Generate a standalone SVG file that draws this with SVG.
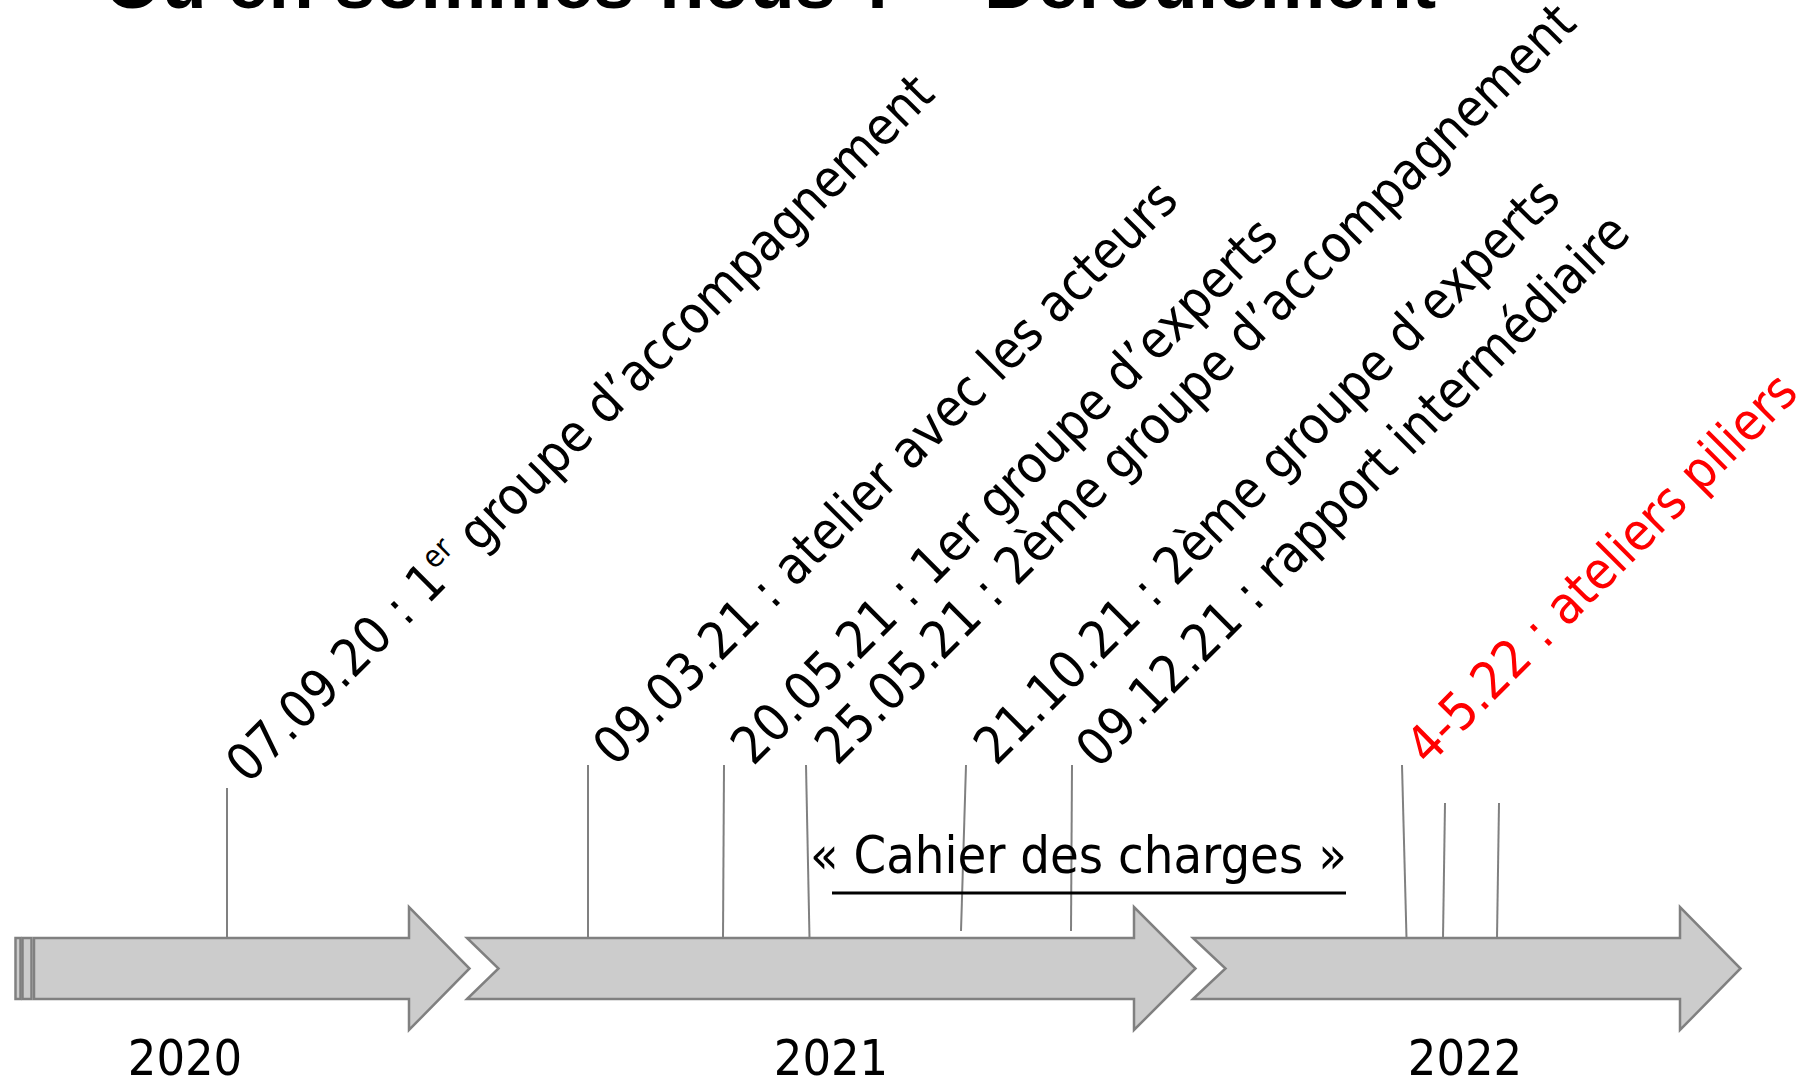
<svg xmlns="http://www.w3.org/2000/svg" width="1818" height="1084" viewBox="0 0 1818 1084">
  <style>
    .title { font-family: "Liberation Sans", Arial, sans-serif; font-weight: bold; font-size: 74px; fill: #000; }
    .lbl { font-family: "DejaVu Sans Condensed", "DejaVu Sans", sans-serif; font-stretch: condensed; font-size: 52px; fill: #000; }
    .red { fill: #ff0000; }
    .year { font-family: "DejaVu Sans Condensed", "DejaVu Sans", sans-serif; font-stretch: condensed; font-size: 50px; fill: #000; text-anchor: middle; }
    .arrow { fill: #cccccc; stroke: #808080; stroke-width: 2.5; stroke-linejoin: miter; }
    .tick { stroke: #808080; stroke-width: 2; fill: none; }
  </style>
  <rect width="1818" height="1084" fill="#ffffff"/>

  <!-- heading, mostly above the top edge -->
  <text class="title" x="104" y="8">Où en sommes-nous ? – Déroulement</text>

  <!-- timeline arrows -->
  <g id="arrow-2020">
    <rect class="arrow" x="15.5" y="938" width="5" height="61"/>
    <rect class="arrow" x="22.5" y="938" width="9" height="61"/>
    <path class="arrow" d="M34,938 L409,938 L409,907 L469.5,968.5 L409,1030 L409,999 L34,999 Z"/>
  </g>
  <g id="arrow-2021">
    <path class="arrow" d="M467,938 L1134,938 L1134,907 L1195.5,968.5 L1134,1030 L1134,999 L467,999 L498.5,968.5 Z"/>
  </g>
  <g id="arrow-2022">
    <path class="arrow" d="M1193,938 L1680,938 L1680,907 L1740.5,968.5 L1680,1030 L1680,999 L1193,999 L1225.5,968.5 Z"/>
  </g>

  <!-- event ticks -->
  <g id="connectors">
    <line class="tick" x1="227" y1="788" x2="227" y2="938"/>
    <line class="tick" x1="588" y1="765" x2="588" y2="938"/>
    <line class="tick" x1="724" y1="765" x2="723" y2="938"/>
    <line class="tick" x1="806" y1="765" x2="809.5" y2="938"/>
    <line class="tick" x1="966" y1="765" x2="961" y2="931"/>
    <line class="tick" x1="1072" y1="765" x2="1071" y2="931"/>
    <line class="tick" x1="1402" y1="765" x2="1406.5" y2="938"/>
    <line class="tick" x1="1445" y1="803" x2="1443" y2="938"/>
    <line class="tick" x1="1499" y1="803" x2="1497" y2="938"/>
  </g>

  <!-- dated events -->
  <g id="ev-070920">
    <text class="lbl" transform="translate(248,785) rotate(-45)">07.09.20 : 1<tspan font-size="31" dy="-20">er</tspan><tspan dy="20"> groupe d’accompagnement</tspan></text>
  </g>
  <g id="ev-090321">
    <text class="lbl" transform="translate(615,768) rotate(-45)">09.03.21 : atelier avec les acteurs</text>
  </g>
  <g id="ev-200521">
    <text class="lbl" transform="translate(753,767) rotate(-45)">20.05.21 : 1er groupe d’experts</text>
  </g>
  <g id="ev-250521">
    <text class="lbl" transform="translate(837,767) rotate(-45)">25.05.21 : 2ème groupe d’accompagnement</text>
  </g>
  <g id="ev-211021">
    <text class="lbl" transform="translate(996,767) rotate(-45)">21.10.21 : 2ème groupe d’experts</text>
  </g>
  <g id="ev-091221">
    <text class="lbl" transform="translate(1098,770) rotate(-45)">09.12.21 : rapport intermédiaire</text>
  </g>
  <g id="ev-4522">
    <text class="lbl red" transform="translate(1428,767) rotate(-45)">4-5.22 : ateliers piliers</text>
  </g>

  <!-- specification phase -->
  <g id="cahier">
    <text class="lbl" x="810" y="873">« Cahier des charges »</text>
    <line x1="832" y1="893" x2="1346" y2="893" stroke="#000" stroke-width="3"/>
  </g>

  <!-- years -->
  <g id="years">
    <text class="year" x="185" y="1075">2020</text>
    <text class="year" x="831" y="1075">2021</text>
    <text class="year" x="1465" y="1075">2022</text>
  </g>
</svg>
